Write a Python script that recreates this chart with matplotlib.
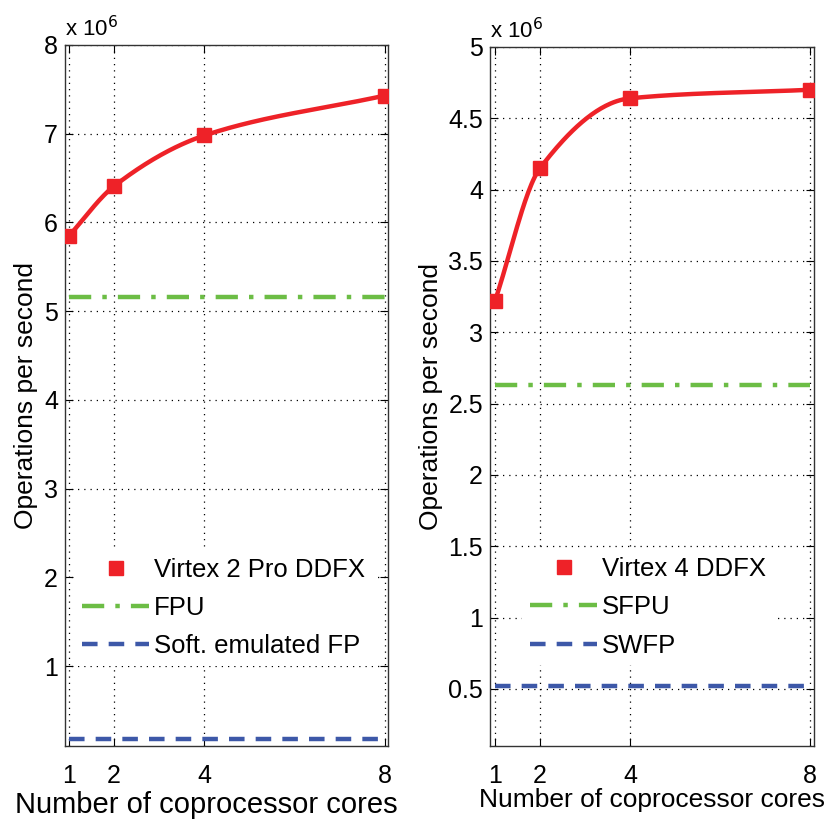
import numpy as np
import matplotlib
matplotlib.use("Agg")
import matplotlib.pyplot as plt

## data (values in millions of operations per second)
cores = [1, 2, 4, 8]
v2pro_ddfx = [5.85, 6.41, 6.98, 7.43]
v2pro_fpu = 5.16
v2pro_soft = 0.18

v4_ddfx = [3.22, 4.15, 4.64, 4.70]
v4_sfpu = 2.63
v4_swfp = 0.52

left_labels = ["Virtex 2 Pro DDFX", "FPU", "Soft. emulated FP"]
right_labels = ["Virtex 4 DDFX", "SFPU", "SWFP"]
left_yticks = [1, 2, 3, 4, 5, 6, 7, 8]
right_yticks = [0.5, 1, 1.5, 2, 2.5, 3, 3.5, 4, 4.5, 5]

RED = "#ee2228"
GREEN = "#6cbd45"
BLUE = "#3d58a8"

plt.rcParams["font.family"] = ["Liberation Sans", "DejaVu Sans"]


def pchip(x, y, xs):
    # monotone cubic, only used to draw the smooth connecting line
    x = np.asarray(x, float)
    y = np.asarray(y, float)
    h = np.diff(x)
    d = np.diff(y) / h
    m = np.zeros_like(y)
    for k in range(1, len(x) - 1):
        if d[k - 1] * d[k] > 0:
            w1 = 2 * h[k] + h[k - 1]
            w2 = h[k] + 2 * h[k - 1]
            m[k] = (w1 + w2) / (w1 / d[k - 1] + w2 / d[k])
    m[0] = d[0]
    m[-1] = d[-1]
    out = np.empty_like(xs)
    for i, xv in enumerate(xs):
        k = min(np.searchsorted(x, xv, side="right") - 1, len(x) - 2)
        k = max(k, 0)
        t = (xv - x[k]) / h[k]
        h00 = 2 * t**3 - 3 * t**2 + 1
        h10 = t**3 - 2 * t**2 + t
        h01 = -2 * t**3 + 3 * t**2
        h11 = t**3 - t**2
        out[i] = h00 * y[k] + h10 * h[k] * m[k] + h01 * y[k + 1] + h11 * h[k] * m[k + 1]
    return out


def panel(ax, ddfx, fpu, soft, labels, yticks, ylim, xlim, legend_anchor,
          xlab_size, xlab_pos):
    xs = np.linspace(cores[0], cores[-1], 200)
    ax.plot(xs, pchip(cores, ddfx, xs), color=RED, lw=3.2, zorder=3)
    ax.plot(cores, ddfx, "s", color=RED, ms=10, label=labels[0], zorder=4)
    ax.plot([cores[0], cores[-1]], [fpu, fpu], color=GREEN, lw=3.2,
            dashes=(5, 2.5, 1, 2.5), label=labels[1])
    ax.plot([cores[0], cores[-1]], [soft, soft], color=BLUE, lw=3.2,
            dashes=(3.5, 2.5), label=labels[2])
    ax.set_xlim(*xlim)
    ax.set_ylim(*ylim)
    ax.set_xticks(cores)
    ax.set_yticks(yticks)
    ax.set_yticklabels([("%g" % t) for t in yticks])
    ax.grid(True, color="black", linestyle=(0, (1, 4)), lw=0.9)
    ax.tick_params(direction="in", top=True, right=True, length=6,
                   labelsize=18, pad=5)
    ax.tick_params(axis="x", pad=13)
    for s in ax.spines.values():
        s.set_color("#333333")
        s.set_linewidth(1.0)
    ax.set_xlabel("Number of coprocessor cores", fontsize=xlab_size, va="center")
    ax.xaxis.set_label_coords(*xlab_pos)
    ax.set_ylabel("Operations per second", fontsize=19, labelpad=4)
    ax.text(0.0, 1.005, r"x 10$^6$", transform=ax.transAxes, fontsize=16,
            ha="left", va="bottom")
    leg = ax.legend(loc="upper left", bbox_to_anchor=legend_anchor, fontsize=18.5,
                    handlelength=2.6, handletextpad=0.2, labelspacing=0.55,
                    borderpad=0.3, borderaxespad=0.0, frameon=True, fancybox=False)
    leg.get_frame().set_facecolor("white")
    leg.get_frame().set_edgecolor("none")
    leg.get_frame().set_alpha(1.0)


fig = plt.figure(figsize=(8.31, 8.24), dpi=100)
ax1 = fig.add_axes([0.0782, 0.0947, 0.3887, 0.8507])
ax2 = fig.add_axes([0.5897, 0.0947, 0.3899, 0.8483])

panel(ax1, v2pro_ddfx, v2pro_fpu, v2pro_soft, left_labels, left_yticks,
      (0.1, 8), (0.91, 8.07), (0.03, 0.279), 21, (0.437, -0.084))
panel(ax2, v4_ddfx, v4_sfpu, v4_swfp, right_labels, right_yticks,
      (0.1, 5), (0.89, 8.09), (0.1, 0.281), 19, (0.5, -0.077))

fig.savefig("out.png", dpi=100)
